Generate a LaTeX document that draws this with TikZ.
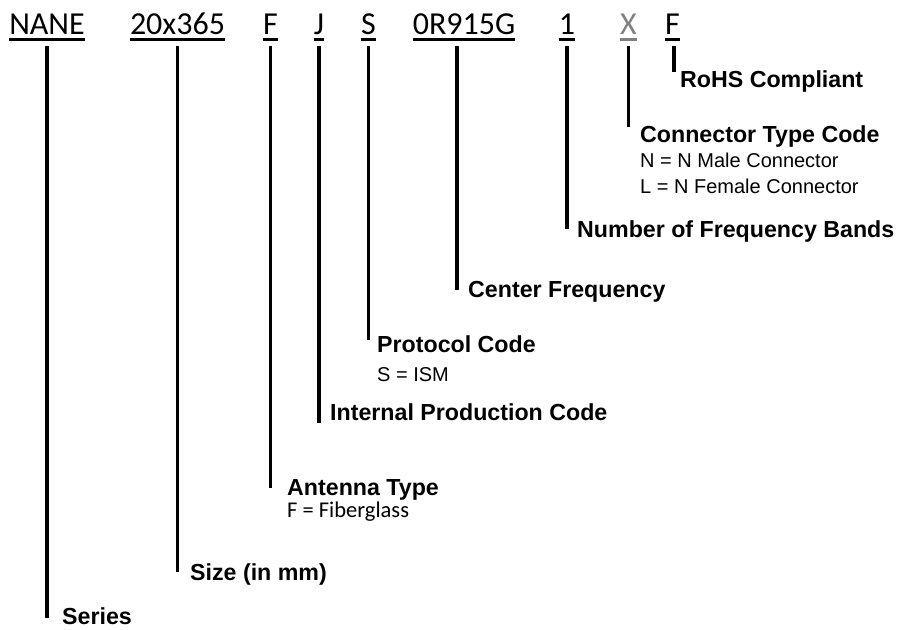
\documentclass[tikz,border=0pt]{standalone}
\usepackage{fontspec}
\setmainfont{Liberation Sans}
\newfontfamily\codefont{Carlito}
\usetikzlibrary{positioning}

\begin{document}
\begin{tikzpicture}[
    x=1pt, y=-1pt,
    code/.style={inner sep=0pt, anchor=base, font=\codefont\fontsize{32}{33}\selectfont},
    title/.style={inner sep=0pt, anchor=base west, font=\bfseries\fontsize{23.2}{24}\selectfont},
    note/.style={inner sep=0pt, anchor=base west, font=\fontsize{20}{21}\selectfont},
    cnote/.style={inner sep=0pt, anchor=base west, font=\codefont\fontsize{22.5}{23}\selectfont},
    stem/.style={line width=3.6pt},
    uline/.style={line width=3pt},
]
    \useasboundingbox (0,0) rectangle (899,629);

    % part number
    \node[code] (nane)  at (47,34)    {NANE};
    \node[code] (size)  at (177.5,34) {20x365};
    \node[code] (ant)   at (270.5,34) {F};
    \node[code] (ipc)   at (319,34)   {J};
    \node[code] (proto) at (368.5,34) {S};
    \node[code] (freq)  at (464,34)   {0R915G};
    \node[code] (bands) at (567,34)   {1};
    \node[code, gray] (conn) at (628.5,34) {X};
    \node[code] (rohs)  at (672.5,34) {F};

    \foreach \n in {nane, size, ant, ipc, proto, freq, bands, rohs}
        \draw[uline] ([yshift=-5pt]\n.base west) -- ([yshift=-5pt]\n.base east);
    \draw[uline, gray] ([yshift=-5pt]conn.base west) -- ([yshift=-5pt]conn.base east);

    % descriptions
    \node[title] (rohsT)  at (680,87)  {RoHS Compliant};
    \node[title] (connT)  at (640,142) {Connector Type Code};
    \node[note]  (connN)  at (640,167) {N = N Male Connector};
    \node[note]  (connL)  at (640,193) {L = N Female Connector};
    \node[title] (bandsT) at (577,237) {Number of Frequency Bands};
    \node[title] (freqT)  at (468,297) {Center Frequency};
    \node[title] (protoT) at (377,352) {Protocol Code};
    \node[note]  (protoS) at (377,381) {S = ISM};
    \node[title] (ipcT)   at (330,420) {Internal Production Code};
    \node[title] (antT)   at (287,495) {Antenna Type};
    \node[cnote] (antF)   at (287,517) {F = Fiberglass};
    \node[title] (sizeT)  at (190,580) {Size (in mm)};
    \node[title] (naneT)  at (62,624)  {Series};

    % leaders
    \draw[stem] ([yshift=-12pt]nane.base) -- ([yshift=6pt]nane.base |- naneT.base);
    \draw[stem] ([yshift=-12pt]size.base) -- ([yshift=8pt]size.base |- sizeT.base);
    \draw[stem] ([yshift=-12pt]ant.base) -- ([yshift=7pt]ant.base |- antT.base);
    \draw[stem] ([yshift=-12pt]ipc.base) -- ([yshift=-3pt]ipc.base |- ipcT.base);
    \draw[stem] ([yshift=-12pt]proto.base) -- ([yshift=12pt]proto.base |- protoT.base);
    \draw[stem] ([xshift=-7pt, yshift=-12pt]freq.base) -- ([xshift=-7pt, yshift=7pt]freq.base |- freqT.base);
    \draw[stem] ([yshift=-12pt]bands.base) -- ([yshift=8pt]bands.base |- bandsT.base);
    \draw[stem] ([yshift=-12pt]conn.base) -- ([yshift=15pt]conn.base |- connT.base);
    \draw[stem] ([xshift=1.5pt, yshift=-12pt]rohs.base) -- ([xshift=1.5pt, yshift=15pt]rohs.base |- rohsT.base);

\end{tikzpicture}
\end{document}
